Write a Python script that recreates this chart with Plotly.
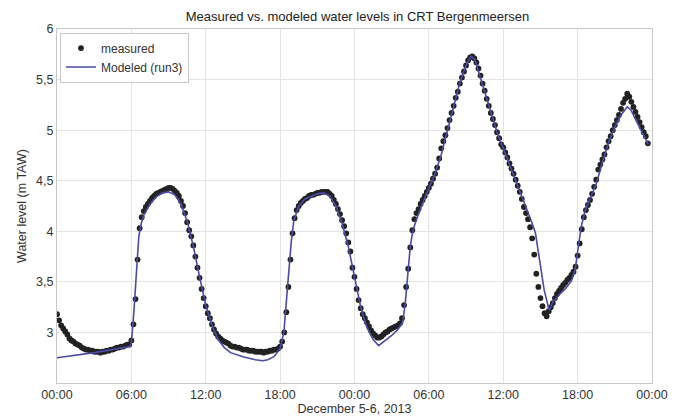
import pandas as pd
import plotly.graph_objects as go

# ---- data ----
start = "2013-12-05 00:00"
measured_step_min = 10
# measured water level (m TAW), one value every 10 minutes from Dec 5 00:00
measured = [
    3.18, 3.12, 3.07, 3.04, 3.01, 2.98,   # 00h
    2.94, 2.92, 2.91, 2.89, 2.88, 2.87,   # 01h
    2.85, 2.84, 2.83, 2.83, 2.82, 2.82,   # 02h
    2.81, 2.81, 2.81, 2.80, 2.81, 2.81,   # 03h
    2.82, 2.82, 2.83, 2.83, 2.84, 2.85,   # 04h
    2.85, 2.86, 2.86, 2.87, 2.88, 2.88,   # 05h
    2.92, 3.08, 3.33, 3.72, 4.03, 4.14,   # 06h
    4.20, 4.24, 4.27, 4.30, 4.33, 4.35,   # 07h
    4.37, 4.38, 4.39, 4.40, 4.41, 4.42,   # 08h
    4.43, 4.43, 4.42, 4.40, 4.38, 4.35,   # 09h
    4.30, 4.25, 4.18, 4.09, 4.01, 3.95,   # 10h
    3.86, 3.75, 3.64, 3.54, 3.43, 3.34,   # 11h
    3.26, 3.19, 3.14, 3.08, 3.03, 2.99,   # 12h
    2.96, 2.94, 2.92, 2.91, 2.90, 2.89,   # 13h
    2.87, 2.86, 2.86, 2.85, 2.85, 2.84,   # 14h
    2.83, 2.83, 2.83, 2.82, 2.82, 2.82,   # 15h
    2.81, 2.81, 2.81, 2.81, 2.80, 2.81,   # 16h
    2.81, 2.82, 2.82, 2.83, 2.83, 2.84,   # 17h
    2.86, 2.91, 3.00, 3.20, 3.45, 3.72,   # 18h
    3.98, 4.13, 4.21, 4.25, 4.28, 4.30,   # 19h
    4.32, 4.33, 4.35, 4.36, 4.36, 4.37,   # 20h
    4.38, 4.38, 4.39, 4.39, 4.39, 4.39,   # 21h
    4.37, 4.35, 4.31, 4.27, 4.22, 4.17,   # 22h
    4.11, 4.05, 3.98, 3.89, 3.80, 3.64,   # 23h
    3.55, 3.43, 3.32, 3.24, 3.18, 3.14,   # 24h (Dec 6 00h)
    3.10, 3.06, 3.02, 2.99, 2.97, 2.95,   # 25h
    2.95, 2.96, 2.98, 3.00, 3.01, 3.03,   # 26h
    3.04, 3.05, 3.06, 3.07, 3.09, 3.14,   # 27h
    3.27, 3.45, 3.63, 3.84, 4.01, 4.12,   # 28h
    4.18, 4.22, 4.27, 4.31, 4.35, 4.39,   # 29h
    4.43, 4.47, 4.52, 4.57, 4.63, 4.72,   # 30h
    4.82, 4.89, 4.95, 5.02, 5.10, 5.17,   # 31h
    5.24, 5.32, 5.38, 5.46, 5.52, 5.58,   # 32h
    5.64, 5.69, 5.72, 5.73, 5.71, 5.67,   # 33h
    5.61, 5.54, 5.46, 5.39, 5.31, 5.24,   # 34h
    5.17, 5.11, 5.05, 4.98, 4.92, 4.86,   # 35h
    4.83, 4.78, 4.73, 4.67, 4.62, 4.57,   # 36h
    4.51, 4.45, 4.39, 4.32, 4.24, 4.18,   # 37h
    4.12, 4.04, 3.93, 3.77, 3.58, 3.45,   # 38h
    3.34, 3.26, 3.19, 3.16, 3.21, 3.25,   # 39h
    3.29, 3.34, 3.38, 3.41, 3.44, 3.47,   # 40h
    3.49, 3.52, 3.54, 3.57, 3.60, 3.65,   # 41h
    3.76, 3.88, 4.02, 4.14, 4.21, 4.26,   # 42h
    4.31, 4.37, 4.44, 4.51, 4.61, 4.66,   # 43h
    4.71, 4.76, 4.83, 4.89, 4.94, 5.00,   # 44h
    5.05, 5.10, 5.15, 5.21, 5.27, 5.31,   # 45h
    5.36, 5.33, 5.28, 5.23, 5.18, 5.13,   # 46h
    5.08, 5.03, 4.98, 4.94, 4.87,         # 47h
]

# modeled (run3): hours since Dec 5 00:00 and water level (m TAW)
model_hours = [
    0, 3, 5.9, 6.0, 6.2, 6.4, 6.6, 6.8, 7.0, 7.5, 8.0, 8.5, 9.0, 9.5, 10, 10.5,
    11, 11.5, 12, 12.5, 13, 13.5, 14, 15, 16, 16.6, 17, 17.5, 18, 18.3, 18.5,
    18.7, 18.9, 19.1, 19.5, 20, 21, 21.5, 22, 22.5, 23, 23.5, 24, 24.5, 25,
    25.5, 25.95, 26.5, 27, 27.5, 27.9, 28.1, 28.3, 28.5, 28.7, 29, 29.5, 30,
    30.5, 31, 31.5, 32, 32.5, 33, 33.4, 33.7, 34, 34.5, 35, 35.5, 36, 36.5, 37,
    37.5, 38, 38.3, 38.6, 38.9, 39.3, 39.7, 40.0, 40.5, 41, 41.5, 41.8, 42.0,
    42.3, 42.6, 43, 43.5, 44, 44.5, 45, 45.5, 46, 46.3, 46.7, 47.2, 47.7,
]
model_values = [
    2.75, 2.80, 2.86, 2.90, 3.20, 3.60, 3.95, 4.08, 4.16, 4.27, 4.34, 4.38, 4.39,
    4.36, 4.27, 4.10, 3.85, 3.55, 3.27, 3.07, 2.93, 2.85, 2.80, 2.76, 2.73, 2.72,
    2.73, 2.76, 2.84, 3.00, 3.30, 3.60, 3.90, 4.10, 4.25, 4.32, 4.37, 4.38, 4.35,
    4.25, 4.08, 3.85, 3.55, 3.25, 3.05, 2.93, 2.87, 2.92, 2.97, 3.03, 3.10, 3.30,
    3.60, 3.85, 4.00, 4.12, 4.28, 4.42, 4.57, 4.76, 5.00, 5.25, 5.47, 5.64, 5.73,
    5.70, 5.58, 5.38, 5.18, 4.98, 4.82, 4.66, 4.50, 4.34, 4.20, 4.09, 3.98, 3.72,
    3.42, 3.22, 3.30, 3.37, 3.43, 3.51, 3.62, 3.80, 4.05, 4.20, 4.32, 4.47,
    4.68, 4.88, 5.03, 5.15, 5.23, 5.20, 5.10, 4.98, 4.86,
]

y_tick_vals = [3, 3.5, 4, 4.5, 5, 5.5, 6]
y_tick_text = ["3", "3,5", "4", "4,5", "5", "5,5", "6"]

title_text = "Measured vs. modeled water levels in CRT Bergenmeersen"
x_title = "December 5-6, 2013"
y_title = "Water level (m TAW)"

# ---- figure ----
t0 = pd.Timestamp(start)
measured_t = pd.date_range(t0, periods=len(measured), freq=f"{measured_step_min}min")
model_t = [t0 + pd.Timedelta(hours=h) for h in model_hours]

FONT = "Liberation Sans, Arial, sans-serif"

fig = go.Figure()
fig.add_trace(go.Scatter(
    x=measured_t, y=measured, mode="markers", name="measured",
    marker=dict(color="#222222", size=5.8, line=dict(width=0)),
))
fig.add_trace(go.Scatter(
    x=model_t, y=model_values, mode="lines", name="Modeled (run3)",
    line=dict(color="#4b4ba8", width=1.6),
))

fig.update_layout(
    width=681, height=416,
    margin=dict(l=57, r=29, t=29, b=33),
    paper_bgcolor="white", plot_bgcolor="white",
    font=dict(family=FONT, size=12, color="#333333"),
    title=dict(text=title_text, x=0.525, xanchor="center", y=0.972, yanchor="top",
               font=dict(size=13, color="#222222")),
    showlegend=True,
    legend=dict(x=0.005, y=0.99, xanchor="left", yanchor="top",
                bgcolor="white", bordercolor="#c8c8c8", borderwidth=1,
                font=dict(size=12, color="#333333"),
                tracegroupgap=0, itemwidth=30),
)

fig.update_xaxes(
    type="date", automargin=False,
    range=[t0, t0 + pd.Timedelta(hours=48)],
    dtick=6 * 3600 * 1000, tick0=t0, tickformat="%H:%M",
    showgrid=True, gridcolor="#e4e4e4", gridwidth=1,
    showline=True, linecolor="#c8c8c8", linewidth=1, mirror=True,
    ticks="", ticklen=0, zeroline=False,
    title=dict(text=x_title, standoff=0, font=dict(size=12.5, color="#333333")),
    tickfont=dict(size=12.5, color="#333333"),
)
fig.update_yaxes(
    automargin=False,
    range=[2.5, 6],
    tickvals=y_tick_vals, ticktext=y_tick_text,
    showgrid=True, gridcolor="#e4e4e4", gridwidth=1,
    showline=True, linecolor="#c8c8c8", linewidth=1, mirror=True,
    ticks="", ticklen=0, zeroline=False,
    title=dict(text=y_title, standoff=6, font=dict(size=12.5, color="#333333")),
    tickfont=dict(size=12.5, color="#333333"),
)

fig.write_html(
    "out.html",
    config={"displayModeBar": False},
    post_script="document.body.style.margin='0';document.body.style.overflow='hidden';",
)
